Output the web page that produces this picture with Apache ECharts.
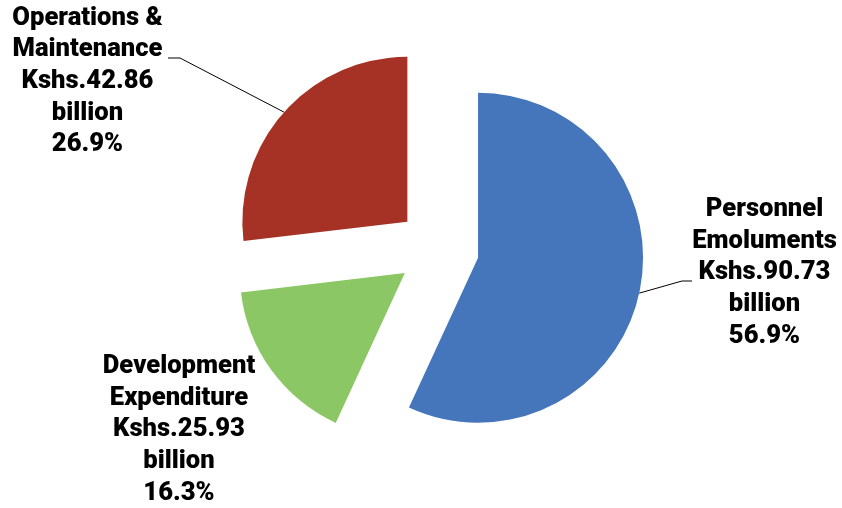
<!DOCTYPE html>
<html>
<head>
<meta charset="utf-8">
<script src="https://cdn.jsdelivr.net/npm/echarts@6/dist/echarts.min.js"></script>
<style>html,body{margin:0;padding:0;background:#fff}#chart{width:842px;height:508px}</style>
</head>
<body>
<div id="chart"></div>
<script>
const categories = ['Personnel\nEmoluments', 'Development\nExpenditure', 'Operations &\nMaintenance'];
const amounts = [90.73, 25.93, 42.86];
const percentLabels = ['56.9%', '16.3%', '26.9%'];
const colors = ['#4575BB', '#8BC764', '#A53224'];

const CENTER = [438, 249];
const RADIUS = 165;
const EXPLODE = 41;

// label placement (layout only)
const labelPos = [
  { x: 764.5, y: 273, line: [[682, 281], [692, 281]] },
  { x: 179, y: 430, line: null },
  { x: 87.5, y: 81.5, line: [[180, 58], [168, 58]] }
];

const chart = echarts.init(document.getElementById('chart'));
chart.setOption({
  animation: false,
  backgroundColor: '#fff',
  series: [{
    type: 'pie',
    center: CENTER,
    radius: RADIUS,
    startAngle: 90,
    clockwise: true,
    selectedMode: 'multiple',
    selectedOffset: EXPLODE,
    silent: true,
    label: { show: false },
    labelLine: { show: false },
    data: amounts.map((v, i) => ({
      name: categories[i],
      value: v,
      selected: true,
      itemStyle: { color: colors[i] }
    }))
  }, {
    type: 'pie',
    center: CENTER,
    radius: RADIUS,
    startAngle: 90,
    clockwise: true,
    silent: true,
    z: 3,
    itemStyle: { color: 'rgba(0,0,0,0)' },
    data: amounts.map((v, i) => ({
      name: categories[i],
      value: v,
      labelLine: { show: labelPos[i].line != null }
    })),
    label: {
      show: true,
      position: 'outside',
      formatter: p => p.name + '\nKshs.' + amounts[p.dataIndex].toFixed(2) + '\nbillion\n' + percentLabels[p.dataIndex],
      fontFamily: 'Roboto',
      fontWeight: 900,
      fontSize: 25.6,
      lineHeight: 31.6,
      color: '#000',
      align: 'center'
    },
    labelLine: { show: true, lineStyle: { color: '#000', width: 1 }, length: 10, length2: 10 },
    labelLayout: function (params) {
      const lp = labelPos[params.dataIndex];
      const out = { x: lp.x, y: lp.y, align: 'center', verticalAlign: 'middle' };
      if (lp.line && params.labelLinePoints) {
        const p0 = params.labelLinePoints[0];
        const vx = p0[0] - CENTER[0], vy = p0[1] - CENTER[1];
        const len = Math.sqrt(vx * vx + vy * vy) || 1;
        const start = [p0[0] + EXPLODE * vx / len, p0[1] + EXPLODE * vy / len];
        out.labelLinePoints = [start, lp.line[0], lp.line[1]];
      }
      return out;
    }
  }]
});
</script>
</body>
</html>
